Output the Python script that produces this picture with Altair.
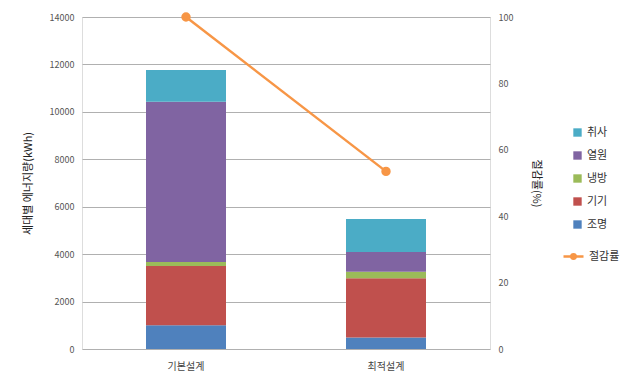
import altair as alt
import pandas as pd

categories = ["기본설계", "최적설계"]
uses = ["조명", "기기", "냉방", "열원", "취사"]  # bottom -> top
lighting = [1000, 490]
appliance = [2500, 2490]
cooling = [170, 280]
heating = [6760, 830]
cooking = [1340, 1390]
saving_rate = [100, 53.5]

legend_order = ["취사", "열원", "냉방", "기기", "조명"]
colors = ["#4BACC6", "#8064A2", "#9BBB59", "#C0504D", "#4F81BD"]

series = [lighting, appliance, cooling, heating, cooking]
rows = []
for k, (u, vals) in enumerate(zip(uses, series)):
    for c, v in zip(categories, vals):
        rows.append({"설계": c, "용도": u, "값": v, "ord": k})
bars_df = pd.DataFrame(rows)
line_df = pd.DataFrame({"설계": categories, "절감률": saving_rate, "계열": ["절감률"] * 2})

FONT = "Noto Sans CJK KR"

x = alt.X("설계:N", sort=categories, title=None,
          scale=alt.Scale(paddingInner=0.6, paddingOuter=0.32),
          axis=alt.Axis(labelAngle=0, labelFontSize=10, labelColor="#444", ticks=False,
                        domain=False, labelPadding=12, labelFont=FONT))

bars = alt.Chart(bars_df).mark_bar().encode(
    x=x,
    y=alt.Y("sum(값):Q", title="세대별 에너지량(kWh)",
            scale=alt.Scale(domain=[0, 14000], nice=False),
            axis=alt.Axis(values=list(range(0, 14001, 2000)), format="d", labelFontSize=9,
                          labelColor="#555", ticks=False, domain=False, gridColor="#b0b0b0",
                          gridWidth=1, labelPadding=8, titleFontSize=11, titleColor="#222",
                          titleFontWeight="normal", titlePadding=16, titleFont=FONT)),
    color=alt.Color("용도:N", scale=alt.Scale(domain=legend_order, range=colors),
                    legend=alt.Legend(title=None, orient="none", legendX=490, legendY=110,
                                      symbolType="square", symbolSize=70, labelFontSize=11,
                                      labelColor="#333", rowPadding=11, labelFont=FONT,
                                      symbolStrokeWidth=0)),
    order=alt.Order("ord:Q", sort="ascending"),
)

LEGEND_SYMBOL = ("M-1,0L1,0M0.22,0A0.22,0.22 0 1 1 -0.22,0A0.22,0.22 0 1 1 0.22,0Z")

line_base = alt.Chart(line_df).encode(
    x=x,
    y=alt.Y("절감률:Q", title="절감률(%)",
            scale=alt.Scale(domain=[0, 100], nice=False),
            axis=alt.Axis(orient="right", values=list(range(0, 101, 20)), labelFontSize=9,
                          labelColor="#555", ticks=False, domain=False, grid=False,
                          labelPadding=8, titleFontSize=11, titleColor="#222",
                          titleFontWeight="normal", titlePadding=18, titleFont=FONT)),
    stroke=alt.Stroke("계열:N", scale=alt.Scale(domain=["절감률"], range=["#F79646"]),
                      legend=alt.Legend(title=None, orient="none", legendX=480, legendY=228,
                                        symbolType=LEGEND_SYMBOL, symbolSize=400,
                                        symbolStrokeWidth=2.5, symbolFillColor="#F79646",
                                        labelFontSize=11, labelColor="#333", labelFont=FONT)),
)
line = line_base.mark_line(strokeWidth=2.5)
points = line_base.mark_point(filled=True, size=55, color="#F79646", opacity=1)

right = alt.layer(line, points)

chart = alt.layer(bars, right).resolve_scale(
    y="independent", color="independent", stroke="independent"
).properties(
    width=408, height=332,
    autosize=alt.AutoSizeParams(type="none"),
    padding={"left": 82, "top": 17, "right": 143, "bottom": 27},
).configure_view(stroke=None).configure(font=FONT, background="white")

chart.save("out.html", embed_options={"renderer": "svg", "actions": False})
